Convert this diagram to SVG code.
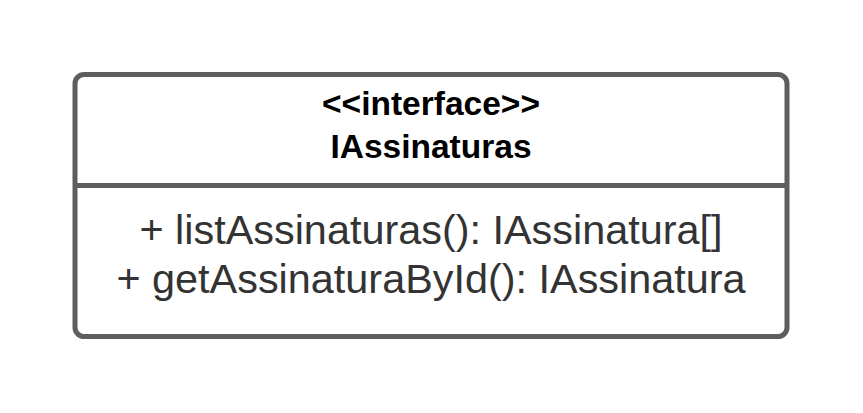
<svg xmlns="http://www.w3.org/2000/svg" width="863" height="413" viewBox="0 0 863 413">
  <style>
    .box { fill: #ffffff; stroke: #5e5e5e; stroke-width: 5; }
    .div { stroke: #5e5e5e; stroke-width: 5; }
    .hdr { font-family: "Liberation Sans", Arial, sans-serif; font-weight: bold; font-size: 33.5px; fill: #000000; text-anchor: middle; }
    .op { font-family: "Liberation Sans", Arial, sans-serif; font-size: 41.4px; fill: #333333; text-anchor: middle; }
  </style>
  <rect width="863" height="413" fill="#ffffff"/>
  <g id="IAssinaturas">
    <rect class="box" x="75" y="74.5" width="712" height="262" rx="9" ry="9"/>
    <line class="div" x1="75" y1="185.5" x2="787" y2="185.5"/>
    <text class="hdr" x="431" y="115">&lt;&lt;interface&gt;&gt;</text>
    <text class="hdr" x="431" y="158">IAssinaturas</text>
    <text class="op" x="431" y="244">+ listAssinaturas(): IAssinatura[]</text>
    <text class="op" x="431" y="293">+ getAssinaturaById(): IAssinatura</text>
  </g>
  <g id="connectors"/>
</svg>
